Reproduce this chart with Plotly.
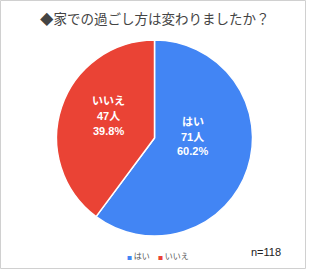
import plotly.graph_objects as go

labels = ["はい", "いいえ"]
counts = [71, 47]
percents = ["60.2%", "39.8%"]
colors = ["#4285F4", "#EA4335"]
title_text = "◆家での過ごし方は変わりましたか？"
n_text = "n=118"

W, H = 309, 270


def px(x, y):
    return x / W, (H - y) / H


fig = go.Figure()
fig.add_trace(go.Pie(
    labels=labels,
    values=counts,
    textinfo="none",
    sort=False,
    direction="clockwise",
    rotation=0,
    marker=dict(colors=colors, line=dict(color="white", width=1.5)),
    domain=dict(x=[56.5 / W, 252.5 / W], y=[(H - 236) / H, (H - 40) / H]),
    showlegend=False,
    hoverinfo="none",
))

# slice labels (white, bold), one annotation per line
label_pos = [(192.5, 136.5), (108, 116)]
line_gap = 14.5
for lab, c, p, (lx, ly) in zip(labels, counts, percents, label_pos):
    for i, line in enumerate([lab, f"{c}人", p]):
        x, y = px(lx, ly + (i - 1) * line_gap)
        fig.add_annotation(x=x, y=y, xref="paper", yref="paper",
                           xanchor="center", yanchor="middle",
                           text=f"<b>{line}</b>", showarrow=False,
                           font=dict(size=11, color="white",
                                     family="Arial, Noto Sans CJK JP"))

x, y = px(154.5, 18)
fig.add_annotation(x=x, y=y, xref="paper", yref="paper",
                   xanchor="center", yanchor="middle",
                   text=title_text, showarrow=False,
                   font=dict(size=13.5, color="#444444", family="Noto Sans CJK JP"))
x, y = px(266, 252)
fig.add_annotation(x=x, y=y, xref="paper", yref="paper",
                   xanchor="center", yanchor="middle",
                   text=n_text, showarrow=False,
                   font=dict(size=11, color="#222222", family="Arial"))
# legend
legend_x = [124.5, 155.5]
for lab, col, lx in zip(labels, colors, legend_x):
    x, y = px(lx, 255)
    fig.add_annotation(x=x, y=y, xref="paper", yref="paper",
                       xanchor="left", yanchor="middle",
                       text=f"<span style='color:{col};font-size:5px'>■</span> {lab}",
                       showarrow=False,
                       font=dict(size=8, color="#555555", family="Noto Sans CJK JP"))

fig.add_shape(type="rect", xref="paper", yref="paper",
              x0=0.5 / W, x1=305.5 / W, y0=(H - 268.5) / H, y1=(H - 0.5) / H,
              line=dict(color="#d0d0d0", width=1))

fig.update_layout(width=W, height=H, margin=dict(l=0, r=0, t=0, b=0),
                  paper_bgcolor="white", plot_bgcolor="white")
fig.write_html("out.html")
